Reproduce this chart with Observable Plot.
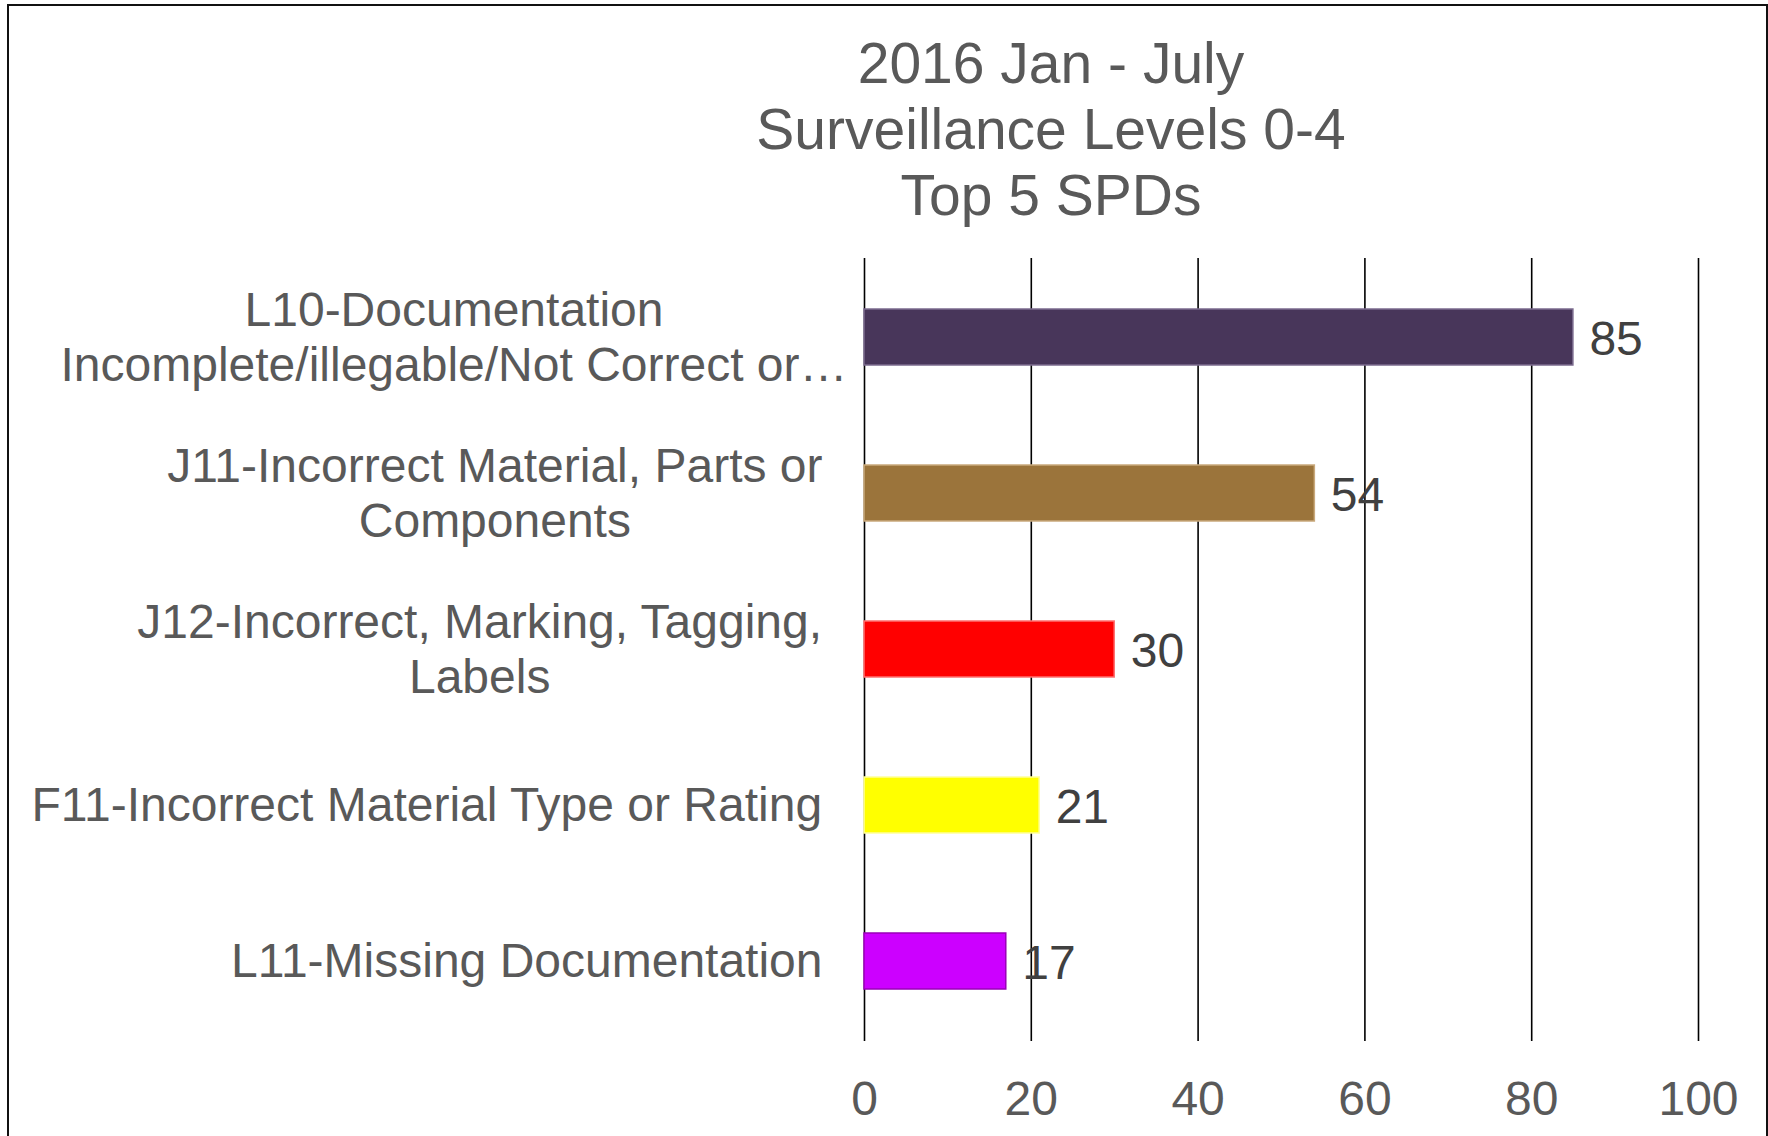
<!DOCTYPE html>
<html>
<head>
<meta charset="utf-8">
<script src="https://cdn.jsdelivr.net/npm/d3@7"></script>
<script src="https://cdn.jsdelivr.net/npm/@observablehq/plot@0.6"></script>
<style>
  html, body { margin: 0; padding: 0; background: #fff; }
  body { width: 1768px; height: 1136px; position: relative; overflow: hidden; font-family: "Liberation Sans", Arial, sans-serif; }
  #frame { position: absolute; left: 7px; top: 4px; width: 1757px; height: 1200px; border: 2px solid #111; border-bottom: none; box-sizing: content-box; pointer-events: none; }
  #title { position: absolute; left: 551px; top: 30px; width: 1000px; text-align: center; font-size: 57px; line-height: 66px; color: #595959; }
  #chart { position: absolute; left: 0; top: 0; }
</style>
</head>
<body>
<div id="chart"></div>
<div id="title">2016 Jan - July<br>Surveillance Levels 0-4<br>Top 5 SPDs</div>
<div id="frame"></div>
<script>
const categories = [
  "L10-Documentation\nIncomplete/illegable/Not Correct or…",
  "J11-Incorrect Material, Parts or\nComponents",
  "J12-Incorrect, Marking, Tagging,\nLabels",
  "F11-Incorrect Material Type or Rating",
  "L11-Missing Documentation"
];
const values = [85, 54, 30, 21, 17];
const fills = ["#48365a", "#9b743b", "#ff0000", "#ffff00", "#cc00ff"];
const strokes = ["#7b6b8e", "#c9a97c", "#ff7070", "#ffff9a", "#9a00b8"];
const xTicks = [0, 20, 40, 60, 80, 100];

const data = categories.map((c, i) => ({cat: c, value: values[i], fill: fills[i], stroke: strokes[i]}));

const FONT = '"Liberation Sans", Arial, sans-serif';
const labelSize = 48;
const canvas = document.createElement("canvas");
const ctx = canvas.getContext("2d");
ctx.font = `${labelSize}px "Liberation Sans"`;
const maxWrapBlock = 737;
const gap = 42;

const labelMarks = data.map(d => {
  const lines = d.cat.split("\n");
  let w = Math.max(...lines.map(s => ctx.measureText(s).width));
  if (lines.length > 1) w = Math.min(maxWrapBlock, w);
  return Plot.text([d], {
    y: "cat",
    text: "cat",
    frameAnchor: "left",
    textAnchor: "middle",
    lineAnchor: "middle",
    lineHeight: 55 / 48,
    dx: -(gap + w / 2),
    dy: -2,
    fontSize: labelSize,
    fill: "#595959",
    fontFamily: FONT
  });
});

const chart = Plot.plot({
  width: 1768,
  height: 1136,
  marginTop: 258,
  marginBottom: 95,
  marginLeft: 864,
  marginRight: 70,
  style: { fontFamily: FONT, background: "transparent", overflow: "visible" },
  x: { domain: [0, 100] },
  y: { domain: categories, paddingInner: 0.64, paddingOuter: 0.32 },
  marks: [
    Plot.ruleX(xTicks, { stroke: "#000", strokeWidth: 1.6 }),
    Plot.barX(data, { y: "cat", x: "value", fill: "fill", stroke: "stroke", strokeWidth: 1.5 }),
    Plot.text(data, { y: "cat", x: "value", text: d => String(d.value), textAnchor: "start", dx: 16, dy: 2, fontSize: 48, fill: "#404040", fontFamily: FONT }),
    Plot.axisX({ ticks: xTicks, tickSize: 0, tickPadding: 39, fontSize: 48, color: "#595959", fill: "#595959", fontFamily: FONT, label: null }),
    Plot.axisY({ ticks: [], label: null, tickSize: 0 }),
    ...labelMarks
  ]
});
document.getElementById("chart").appendChild(chart);
</script>
</body>
</html>
